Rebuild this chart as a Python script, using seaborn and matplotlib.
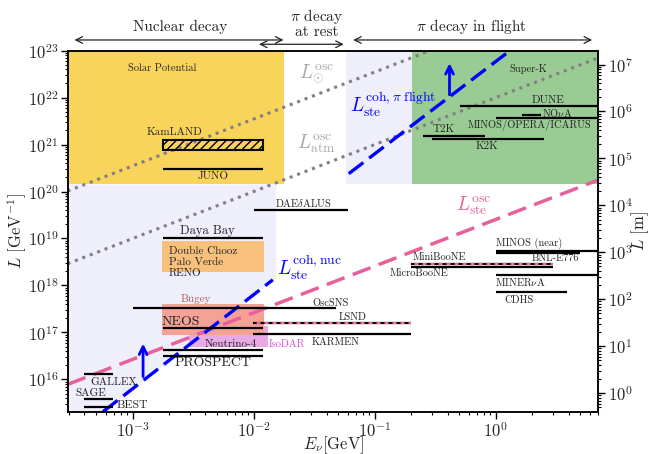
import numpy as np
import matplotlib
matplotlib.use("Agg")
import matplotlib.pyplot as plt
import seaborn as sns
from matplotlib.patches import Rectangle
from matplotlib.ticker import LogLocator, NullFormatter

sns.set_style("ticks")
plt.rcParams["font.family"] = "serif"
plt.rcParams["font.serif"] = ["cmr10", "DejaVu Serif"]
plt.rcParams["mathtext.fontset"] = "cm"
plt.rcParams["axes.formatter.use_mathtext"] = True
plt.rcParams["axes.unicode_minus"] = False

# conversion GeV^-1 -> m
gev_per_m = 5.068e15

# shaded regions: (E_lo, E_hi, L_lo, L_hi, colour)
reg_names = ["solar", "pi_flight_lav", "superk", "reactor", "isodar", "bugey"]
reg_E_lo = [2.9e-4, 0.058, 0.205, 1.75e-3, 2.9e-3, 1.75e-3]
reg_E_hi = [0.0178, 0.205, 7.1, 0.0121, 0.0131, 0.0121]
reg_L_lo = [1.45e20, 1.45e20, 1.45e20, 1.95e18, 4.9e16, 9.0e16]
reg_L_hi = [1.1e23, 1.1e23, 1.1e23, 8.9e18, 1.4e17, 4.0e17]
reg_colors = ["#F9D45B", "#EFEFFB", "#9BCB95", "#F8C07D", "#E8AAE4", "#F4A196"]

# lavender region above the coherence line (nuclear decay)
lav_E = [2.9e-4, 5.7e-4, 0.0152]
lav_L_lo = [2.0e15, 2.05e15, 1.47e18]
lav_L_hi = [1.45e20, 1.45e20, 1.45e20]

# oscillation / coherence lines
sol_E = [2.9e-4, 0.30]
sol_L = [1.02e20, 1.05e23]
atm_E = [2.9e-4, 7.1]
atm_L = [2.9e18, 7.1e22]
ste_E = [2.9e-4, 7.1]
ste_L = [7.8e15, 1.78e20]
cohnuc_E = [5.7e-4, 0.0144]
cohnuc_L = [2.05e15, 1.32e18]
cohpi_E = [0.061, 1.31]
cohpi_L = [2.4e20, 1.0e23]

# experiments (solid black lines)
exp_names = ["JUNO", "DAEdALUS", "Daya Bay", "OscSNS", "NEOS", "KARMEN", "Neutrino-4",
             "PROSPECT", "GALLEX", "SAGE", "BEST", "MicroBooNE", "MINOS (near)",
             "BNL-E776", "MINERvA", "CDHS", "DUNE", "NOvA", "MINOS/OPERA/ICARUS",
             "T2K", "K2K"]
exp_E_lo = [1.78e-3, 0.01, 1.78e-3, 1.0e-3, 1.78e-3, 0.0099, 1.78e-3,
            1.78e-3, 4.0e-4, 4.0e-4, 4.0e-4, 0.2, 1.0,
            1.0, 1.0, 1.0, 0.51, 1.66, 1.0,
            0.253, 0.30]
exp_E_hi = [0.0119, 0.06, 0.0119, 0.048, 0.0119, 0.2, 0.0119,
            0.0119, 6.9e-4, 6.9e-4, 6.9e-4, 3.0, 7.1,
            4.95, 7.1, 3.9, 7.1, 2.35, 7.1,
            0.81, 2.52]
exp_L = [3.0e20, 4.1e19, 1.0e19, 3.3e17, 1.24e17, 9.4e16, 4.3e16,
         3.2e16, 1.3e16, 3.75e15, 2.6e15, 2.46e18, 5.5e18,
         5.0e18, 1.7e18, 7.1e17, 6.6e21, 4.3e21, 3.75e21,
         1.5e21, 1.32e21]

# experiments drawn black/pink dashed
dash_names = ["LSND", "MiniBooNE"]
dash_E_lo = [0.0099, 0.2]
dash_E_hi = [0.2, 3.0]
dash_L = [1.55e17, 2.9e18]

# KamLAND hatched box
kam_E = [1.78e-3, 0.0119]
kam_L = [7.5e20, 1.28e21]

fig = plt.figure(figsize=(6.49, 4.54), dpi=100)
ax = fig.add_axes([0.1052, 0.0932, 0.8166, 0.7952])
ax.set_xscale("log")
ax.set_yscale("log")
ax.set_xlim(2.94e-4, 7.03)
ax.set_ylim(2.05e15, 1e23)

for e0, e1, l0, l1, c in zip(reg_E_lo, reg_E_hi, reg_L_lo, reg_L_hi, reg_colors):
    ax.add_patch(Rectangle((e0, l0), e1 - e0, l1 - l0, facecolor=c, edgecolor="none", zorder=0.5))
ax.fill_between(lav_E, lav_L_lo, lav_L_hi, color="#EFEFFB", lw=0, zorder=0.4)

ax.add_patch(Rectangle((kam_E[0], kam_L[0]), kam_E[1] - kam_E[0], kam_L[1] - kam_L[0],
                       facecolor="none", edgecolor="black", hatch="////", lw=1.5, zorder=3))

ax.hlines(exp_L, exp_E_lo, exp_E_hi, color="black", lw=1.6, zorder=3)
ax.hlines(dash_L, dash_E_lo, dash_E_hi, color="black", lw=1.6, zorder=3)
ax.hlines(dash_L, dash_E_lo, dash_E_hi, color="#EE6A9E", lw=1.6, zorder=3.1,
          linestyles=(2.0, (1.8, 1.8)))

grey = "#808080"
sns.lineplot(x=sol_E, y=sol_L, ax=ax, color=grey, lw=2.2, linestyle=(0, (1, 1.6)), zorder=2)
sns.lineplot(x=atm_E, y=atm_L, ax=ax, color=grey, lw=2.2, linestyle=(0, (1, 1.6)), zorder=2)
sns.lineplot(x=ste_E, y=ste_L, ax=ax, color="#E8609A", lw=2.5, linestyle=(0, (5.5, 2.5)), zorder=2.5)
sns.lineplot(x=cohnuc_E, y=cohnuc_L, ax=ax, color="blue", lw=2.4, linestyle=(0, (5.5, 2.2)), zorder=2.6)
sns.lineplot(x=cohpi_E, y=cohpi_L, ax=ax, color="blue", lw=2.4, linestyle=(0, (5.5, 2.2)), zorder=2.6)

# blue arrows
arrowkw = dict(arrowstyle="->", color="blue", lw=2.0, mutation_scale=14)
ax.annotate("", xy=(1.22e-3, 6.6e16), xytext=(1.22e-3, 1.0e16), arrowprops=arrowkw, zorder=4)
ax.annotate("", xy=(0.415, 6.2e22), xytext=(0.415, 1.0e22), arrowprops=arrowkw, zorder=4)

# curve labels
ax.text(0.0329, 3.3e22, r"$L_{\odot}^{\rm osc}$", color="#A8A8A8", fontsize=14, ha="center", va="center")
ax.text(0.0329, 1.05e21, r"$L_{\rm atm}^{\rm osc}$", color="#A8A8A8", fontsize=14, ha="center", va="center")
ax.text(0.143, 6.9e21, r"$L_{\rm ste}^{{\rm coh},\pi\ {\rm flight}}$", color="blue", fontsize=14,
        ha="center", va="center", zorder=5)
ax.text(0.0287, 2.33e18, r"$L_{\rm ste}^{\rm coh,nuc}$", color="blue", fontsize=14, ha="center", va="center")
ax.text(0.664, 5.1e19, r"$L_{\rm ste}^{\rm osc}$", color="#E8609A", fontsize=14, ha="center", va="center")

# experiment labels
tc = "#222222"
labels = [
    ("Solar Potential", 1.76e-3, 4.2e22, 7.5, tc),
    ("KamLAND", 2.21e-3, 1.83e21, 8, tc),
    ("JUNO", 4.59e-3, 2.12e20, 8, tc),
    (r"DAE$\delta$ALUS", 0.0258, 5.64e19, 7.5, tc),
    ("Daya Bay", 4.18e-3, 1.43e19, 9, tc),
    ("Bugey", 3.33e-3, 5.04e17, 8, "#B5605A"),
    ("OscSNS", 0.0428, 4.27e17, 7.5, tc),
    ("NEOS", 2.48e-3, 1.68e17, 10, tc),
    ("LSND", 0.0655, 2.08e17, 7.5, tc),
    ("KARMEN", 0.0474, 6.3e16, 7.5, tc),
    ("Neutrino-4", 6.46e-3, 5.64e16, 8, tc),
    ("IsoDAR", 0.0188, 5.64e16, 7.5, "#D452CF"),
    ("PROSPECT", 4.63e-3, 2.19e16, 10, tc),
    ("GALLEX", 6.97e-4, 8.9e15, 8, tc),
    ("SAGE", 4.49e-4, 5.04e15, 8, tc),
    ("BEST", 9.9e-4, 2.84e15, 8.5, tc),
    ("MiniBooNE", 0.344, 4.06e18, 7.5, tc),
    ("MicroBooNE", 0.234, 1.8e18, 7.5, tc),
    ("MINOS (near)", 1.9, 7.8e18, 7.5, tc),
    ("BNL-E776", 3.12, 3.86e18, 7.5, tc),
    (r"MINER$\nu$A", 1.6, 1.16e18, 7.5, tc),
    ("CDHS", 1.57, 4.87e17, 7.5, tc),
    ("DUNE", 2.69, 8.77e21, 8, tc),
    (r"NO$\nu$A", 3.23, 4.7e21, 7.5, tc),
    ("MINOS/OPERA/ICARUS", 1.89, 2.58e21, 7.5, tc),
    ("T2K", 0.368, 2.08e21, 8, tc),
    ("K2K", 0.848, 9.3e20, 8, tc),
    ("Super-K", 1.87, 4.14e22, 7.5, tc),
]
for txt, x, y, fs, c in labels:
    ax.text(x, y, txt, fontsize=fs, color=c, ha="center", va="center", zorder=5)
for txt, y in [("Double Chooz", 5.45e18), ("Palo Verde", 3.18e18), ("RENO", 1.8e18)]:
    ax.text(1.99e-3, y, txt, fontsize=8, color=tc, ha="left", va="center", zorder=5)

# production-regime arrows above the axes
topkw = dict(arrowstyle="<->", color="#222222", lw=0.9, mutation_scale=12)
for e0, e1, yf in [(3.14e-4, 0.0186, 1.0296), (0.0105, 0.0585, 1.0177), (0.063, 6.6, 1.0296)]:
    ax.annotate("", xy=(e0, yf), xytext=(e1, yf), xycoords=("data", "axes fraction"),
                textcoords=("data", "axes fraction"), arrowprops=topkw, annotation_clip=False)
ax.text(0.2108, 1.066, "Nuclear decay", transform=ax.transAxes, fontsize=11, ha="center", va="center")
ax.text(0.469, 1.076, "$\\pi$ decay\nat rest", transform=ax.transAxes, fontsize=11, ha="center",
        va="center", linespacing=0.95)
ax.text(0.761, 1.066, r"$\pi$ decay in flight", transform=ax.transAxes, fontsize=11, ha="center", va="center")

ax.set_xlabel(r"$E_\nu$[GeV]", fontsize=12, labelpad=-4)
ax.set_ylabel(r"$L$ [GeV$^{-1}$]", fontsize=12, labelpad=-1)

ax2 = ax.twinx()
ax2.set_yscale("log")
ax2.set_ylim(2.05e15 / gev_per_m, 1e23 / gev_per_m)
ax2.set_ylabel(r"$L$ [m]", fontsize=12, labelpad=-3)

for a in (ax, ax2):
    a.yaxis.set_major_locator(LogLocator(base=10, numticks=100))
    a.yaxis.set_minor_locator(LogLocator(base=10, subs=np.arange(2, 10), numticks=100))
    a.yaxis.set_minor_formatter(NullFormatter())
    a.tick_params(which="major", length=5, width=1, labelsize=12, color="black", pad=2)
    a.tick_params(which="minor", length=2.5, width=0.8, color="black")
    for s in a.spines.values():
        s.set_visible(True)
        s.set_color("black")
        s.set_linewidth(1.1)
ax.xaxis.set_major_locator(LogLocator(base=10, numticks=100))
ax.xaxis.set_minor_locator(LogLocator(base=10, subs=np.arange(2, 10), numticks=100))
ax.xaxis.set_minor_formatter(NullFormatter())
ax.tick_params(axis="x", which="major", pad=1.5)

fig.savefig("out.png", dpi=100)
